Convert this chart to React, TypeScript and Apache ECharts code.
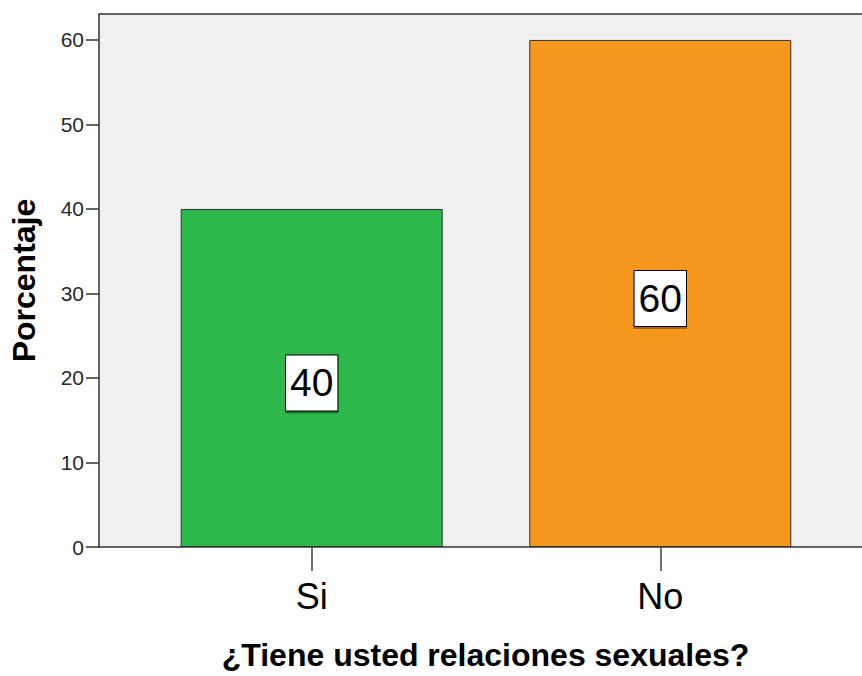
import React, { useEffect, useRef } from "react";
import * as echarts from "echarts";

const categories = ["Si", "No"];
const percentages = [40, 60];
const barColors = ["#2eb84b", "#f7981e"];
const yTicks = [0, 10, 20, 30, 40, 50, 60];
const xTitle = "¿Tiene usted relaciones sexuales?";
const yTitle = "Porcentaje";

export default function App() {
  const ref = useRef<HTMLDivElement>(null);
  useEffect(() => {
    document.body.style.margin = "0";
    if (!ref.current) return;
    const chart = echarts.init(ref.current, null, { renderer: "svg" });
    const positions = categories.map((_, i) => i + 1);
    const font = "'Liberation Sans', Arial, sans-serif";
    const xMin = 0.3897;
    const xMax = 2.5788;
    chart.setOption({
      animation: false,
      textStyle: { fontFamily: font },
      grid: {
        left: 98,
        top: 14,
        right: 0,
        height: 534,
        show: true,
        backgroundColor: "#f0f0f0",
        borderWidth: 0,
      },
      xAxis: [
        {
          type: "value",
          min: xMin,
          max: xMax,
          name: xTitle,
          nameLocation: "middle",
          nameGap: 92,
          nameTextStyle: {
            fontSize: 32,
            fontWeight: "bold",
            color: "#000",
            fontFamily: font,
            padding: [0, 0, 0, 10],
          },
          axisLine: { show: true, lineStyle: { color: "#333", width: 1.5 } },
          axisTick: { show: true, length: 24, customValues: positions, lineStyle: { color: "#444", width: 1.5 } },
          axisLabel: {
            customValues: positions,
            formatter: (v: number) => categories[Math.round(v) - 1] ?? "",
            fontSize: 36,
            color: "#000",
            margin: 31,
            fontFamily: font,
          },
          splitLine: { show: false },
        },
        {
          type: "value",
          position: "top",
          min: xMin,
          max: xMax,
          axisLine: { show: true, lineStyle: { color: "#333", width: 1.5 } },
          axisTick: { show: false },
          axisLabel: { show: false },
          splitLine: { show: false },
        },
      ],
      yAxis: {
        type: "value",
        min: 0,
        max: 63.07,
        interval: 10,
        name: yTitle,
        nameLocation: "middle",
        nameGap: 59,
        nameTextStyle: { fontSize: 32, fontWeight: "bold", color: "#000", fontFamily: font },
        axisLine: { show: true, lineStyle: { color: "#333", width: 1.5 } },
        axisTick: { show: true, length: 13, customValues: yTicks, lineStyle: { color: "#333", width: 1.5 } },
        axisLabel: {
          customValues: yTicks,
          fontSize: 21,
          color: "#2a2a2a",
          margin: 15,
          fontFamily: font,
        },
        splitLine: { show: false },
      },
      series: [
        {
          type: "bar",
          xAxisIndex: 0,
          barWidth: 262,
          data: percentages.map((v, i) => ({
            value: [positions[i], v],
            itemStyle: { color: barColors[i], borderColor: "#333", borderWidth: 1 },
          })),
          label: {
            show: true,
            position: "inside",
            formatter: (p: any) => String(p.value[1]),
            fontSize: 39,
            color: "#000",
            fontFamily: font,
            backgroundColor: "#fff",
            borderColor: "#000",
            borderWidth: 1,
            padding: [8, 4, 8, 4],
            offset: [0, 5],
            shadowColor: "rgba(0,0,0,0.35)",
            shadowOffsetY: 2,
            shadowBlur: 1,
          },
        },
      ],
    });
    return () => chart.dispose();
  }, []);
  return <div ref={ref} style={{ width: 862, height: 676 }} />;
}
